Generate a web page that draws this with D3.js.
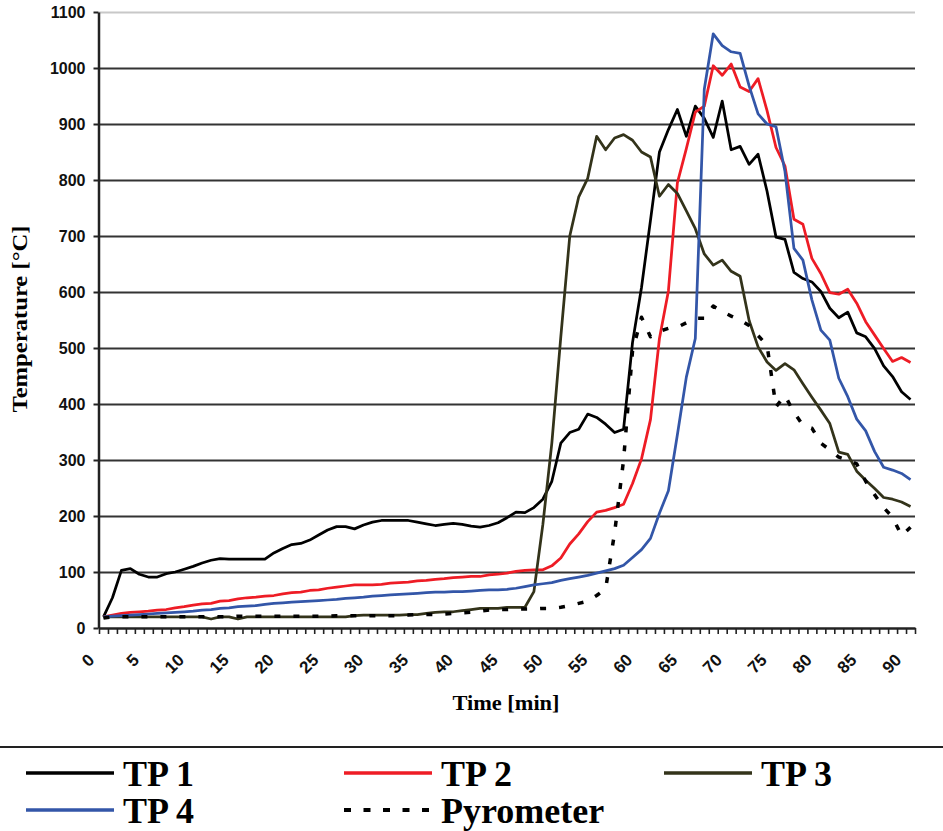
<!DOCTYPE html>
<html><head><meta charset="utf-8">
<script src="https://cdn.jsdelivr.net/npm/d3@7"></script>
<style>body{margin:0;background:#fff}svg{display:block}</style>
</head><body><svg id="c" width="943" height="831"></svg>
<script>
// ---- data ----
const categories = d3.range(0, 91); // time [min]
const xTickLabels = ["0","5","10","15","20","25","30","35","40","45","50","55","60","65","70","75","80","85","90"];
const yTickValues = [0,100,200,300,400,500,600,700,800,900,1000,1100];

const tp1 = [20,54,103,106,96,91,91,97,100,105,110,116,121,124,123,123,123,123,123,134,142,149,151,157,166,175,181,181,177,184,189,192,192,192,192,189,186,183,185,187,185,182,180,183,188,197,207,206,215,230,262,330,349,355,382,376,364,349,355,510,608,728,850,890,926,878,932,910,876,941,854,860,828,846,780,698,694,635,624,618,601,571,554,564,527,520,499,468,449,422,408];
const tp2 = [20,23,26,28,29,30,32,33,36,38,41,43,44,48,49,52,54,55,57,58,61,63,64,67,68,71,73,75,77,77,77,78,80,81,82,84,85,87,88,90,91,92,92,95,96,98,101,103,104,104,111,125,150,168,190,207,210,215,221,258,302,372,517,602,795,856,921,932,1004,987,1007,966,958,981,924,858,825,730,721,660,633,599,596,605,580,547,523,499,476,483,474];
const tp3 = [20,20,20,20,20,20,20,20,20,20,20,20,16,20,20,16,20,20,20,20,20,20,20,20,20,20,20,20,22,23,23,23,23,23,24,24,26,28,29,29,31,33,35,35,35,37,37,37,65,185,330,520,700,770,803,878,854,875,881,871,850,841,771,792,776,745,713,668,648,657,637,628,549,502,475,460,472,461,436,412,389,365,314,310,280,264,249,233,230,225,217];
const tp4 = [20,21,22,23,24,25,26,27,28,29,30,32,33,35,36,38,39,40,42,44,45,46,47,48,49,50,51,53,54,55,57,58,59,60,61,62,63,64,64,65,65,66,67,68,68,69,71,74,77,79,81,85,88,91,94,98,102,106,112,126,140,160,205,245,345,448,517,962,1061,1040,1029,1026,968,918,900,895,815,678,657,586,532,514,446,413,373,352,315,287,282,276,265];
const pyro = [18,20,20,20,20,20,20,20,20,20,20,20,20,20,20,21,21,21,21,21,21,21,21,21,21,21,22,22,22,22,22,22,22,22,23,24,24,24,25,26,27,28,30,32,33,33,34,34,34,35,35,37,40,44,48,58,70,170,300,495,555,520,530,535,537,545,553,553,575,565,557,550,540,522,505,395,415,385,362,357,330,318,305,300,293,262,238,215,198,165,180];

const seriesNames = ["TP 1","TP 2","TP 3","TP 4","Pyrometer"];
const seriesColors = ["#000000","#ee1c25","#33331a","#3356a8","#000000"];

// ---- chart ----
const svg = d3.select("#c");
svg.append("rect").attr("width",943).attr("height",831).attr("fill","#fff");

const x = d3.scaleBand().domain(categories).range([99,915]).padding(0);
const xb = d3.scaleLinear().domain([0,categories.length]).range([99,915]);
const y = d3.scaleLinear().domain([0,1100]).range([628,12]);
const cx = i => x(categories[i]) + x.bandwidth()/2;

// gridlines
const grid = svg.append("g").attr("transform","translate(99,0)")
  .call(d3.axisLeft(y).tickValues(yTickValues.slice(1)).tickSize(-816).tickFormat(""));
grid.select(".domain").remove();
grid.selectAll(".tick line")
  .attr("stroke", d => d===1100 ? "#c8c8c8" : "#333")
  .attr("stroke-width", 2);

// y axis
const ya = svg.append("g").attr("transform","translate(98.5,0)")
  .call(d3.axisLeft(y).tickValues(yTickValues).tickSize(5).tickPadding(8).tickSizeOuter(0).tickFormat(d3.format("d")));
ya.attr("font-size",16).attr("font-family","Liberation Sans, Arial, sans-serif").attr("font-weight","bold");
ya.select(".domain").attr("stroke","#222").attr("stroke-width",2.5);
ya.selectAll(".tick line").attr("stroke","#222").attr("stroke-width",2);
ya.selectAll(".tick text").attr("fill","#111").style("font-size","16px").style("font-weight","bold");

// x axis (tick marks between categories)
const xa = svg.append("g").attr("transform","translate(0,628)")
  .call(d3.axisBottom(xb).tickValues(d3.range(0,categories.length+1)).tickSize(6).tickFormat("").tickSizeOuter(0));
xa.select(".domain").attr("stroke","#222").attr("stroke-width",2.5);
xa.selectAll(".tick line").attr("stroke","#222").attr("stroke-width",1.6);

// x tick labels (rotated -45deg)
const xl = svg.append("g").selectAll("g").data(xTickLabels).join("g")
  .attr("transform", d => "translate(" + (cx(categories.indexOf(+d)) - 8) + ",661)");
xl.append("text")
  .attr("transform","rotate(-45)")
  .attr("text-anchor","end")
  .style("font-family","Liberation Sans, Arial, sans-serif")
  .style("font-weight","bold").style("font-size","17px").attr("fill","#111")
  .text(d => d);

// axis titles
svg.append("text").attr("x",506).attr("y",710).attr("text-anchor","middle")
  .style("font-family","Liberation Serif, Times New Roman, serif").style("font-weight","bold")
  .style("font-size","22px").attr("textLength",107).attr("lengthAdjust","spacingAndGlyphs")
  .text("Time [min]");
svg.append("text").attr("transform","translate(27,319) rotate(-90)").attr("text-anchor","middle")
  .style("font-family","Liberation Serif, Times New Roman, serif").style("font-weight","bold")
  .style("font-size","22px").attr("textLength",187).attr("lengthAdjust","spacingAndGlyphs")
  .text("Temperature [°C]");

// series lines
const line = d3.line().x((d,i) => cx(i)).y(d => y(d));
const allSeries = [tp1,tp2,tp3,tp4,pyro];
allSeries.forEach((s,k) => {
  const p = svg.append("path").datum(s).attr("d", line)
    .attr("fill","none").attr("stroke", seriesColors[k])
    .attr("stroke-linejoin","round");
  if (k === 4) p.attr("stroke-width",3.5).attr("stroke-dasharray","6,13");
  else p.attr("stroke-width",2.75);
});

// legend
svg.append("line").attr("x1",0).attr("x2",943).attr("y1",747).attr("y2",747)
  .attr("stroke","#222").attr("stroke-width",2);
const legPos = [[26,773],[344,773],[664,773],[26,810],[344,810]];
seriesNames.forEach((n,k) => {
  const [lx,ly] = legPos[k];
  const l = svg.append("line").attr("x1",lx).attr("x2",lx+88).attr("y1",ly).attr("y2",ly)
    .attr("stroke",seriesColors[k]);
  if (k===4) l.attr("stroke-width",4).attr("stroke-dasharray","7,12.5");
  else l.attr("stroke-width",3.5);
  svg.append("text").attr("x",lx+97).attr("y",ly+13)
    .style("font-family","Liberation Serif, Times New Roman, serif").style("font-weight","bold")
    .style("font-size","36px").attr("fill","#000").text(n);
});
</script></body></html>
